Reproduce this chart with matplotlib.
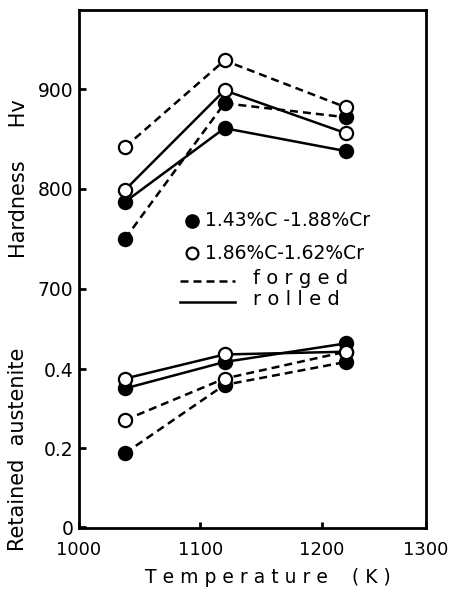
import matplotlib
matplotlib.use('Agg')
import matplotlib.pyplot as plt

plt.rcParams['font.family'] = 'DejaVu Sans'

temps = [1038, 1120, 1220]

# Hardness (Hv)
hv_a_forged = [750, 886, 872]     # 1.43%C-1.88%Cr, filled
hv_a_rolled = [787, 861, 838]
hv_b_forged = [842, 929, 882]     # 1.86%C-1.62%Cr, open
hv_b_rolled = [799, 899, 856]

# Retained austenite (fraction)
ra_a_forged = [0.187, 0.360, 0.418]
ra_a_rolled = [0.351, 0.418, 0.465]
ra_b_forged = [0.271, 0.376, 0.444]
ra_b_rolled = [0.376, 0.437, 0.444]

hv_ticks = [700, 800, 900]
ra_ticks = [0, 0.2, 0.4]
ra_ticklabels = ['0', '0.2', '0.4']
x_ticks = [1000, 1100, 1200]
x_max = 1286

fig = plt.figure(figsize=(4.51, 5.92), dpi=100)
ax = fig.add_axes([0.175, 0.108, 0.7694, 0.875])
ax2 = ax.twinx()

dash = (0, (3.2, 2.0))
lw = 1.8
ms = 9.5

def series(a, x, y, filled, ls):
    a.plot(x, y, color='black', lw=lw, linestyle=ls, marker='o', markersize=ms,
           markerfacecolor='black' if filled else 'white',
           markeredgecolor='black', markeredgewidth=1.6, zorder=3,
           clip_on=False)

series(ax, temps, hv_a_forged, True, dash)
series(ax, temps, hv_a_rolled, True, '-')
series(ax, temps, hv_b_forged, False, dash)
series(ax, temps, hv_b_rolled, False, '-')

series(ax2, temps, ra_a_forged, True, dash)
series(ax2, temps, ra_a_rolled, True, '-')
series(ax2, temps, ra_b_forged, False, dash)
series(ax2, temps, ra_b_rolled, False, '-')

ax.set_xlim(1000, x_max)
ax.set_ylim(459.5, 979.6)
ax2.set_ylim(-0.0025, 1.309)

ax.set_xticks(x_ticks + [x_max])
ax.set_xticklabels([str(t) for t in x_ticks] + ['1300'])
ax.set_yticks(hv_ticks)
ax.set_yticklabels([str(t) for t in hv_ticks])
ax2.set_yticks(ra_ticks)
ax2.set_yticklabels(ra_ticklabels)
ax2.yaxis.set_ticks_position('left')

ax.tick_params(axis='x', direction='in', length=4, width=2, pad=9, labelsize=13)
ax.tick_params(axis='y', direction='in', length=5, width=2, pad=4, labelsize=13.5)
ax2.tick_params(axis='y', direction='in', length=5, width=2, pad=4, labelsize=13.5)

for s in ax.spines.values():
    s.set_linewidth(2)
for s in ax2.spines.values():
    s.set_visible(False)

# legend keys
ax.plot([0.326], [0.593], 'o', color='black', markersize=ms, transform=ax.transAxes)
ax.text(0.363, 0.593, '1.43%C -1.88%Cr', transform=ax.transAxes, fontsize=13.5, va='center')
ax.plot([0.326], [0.531], 'o', markerfacecolor='white', markeredgecolor='black',
        markeredgewidth=1.6, markersize=ms - 1, transform=ax.transAxes)
ax.text(0.363, 0.531, '1.86%C-1.62%Cr', transform=ax.transAxes, fontsize=13.5, va='center')
ax.plot([0.291, 0.450], [0.477, 0.477], color='black', lw=lw, linestyle=dash,
        transform=ax.transAxes)
ax.text(0.501, 0.482, 'f o r g e d', transform=ax.transAxes, fontsize=14, va='center')
ax.plot([0.291, 0.450], [0.436, 0.436], color='black', lw=lw, transform=ax.transAxes)
ax.text(0.501, 0.441, 'r o l l e d', transform=ax.transAxes, fontsize=14, va='center')

fig.text(0.042, 0.6976, 'Hardness     Hv', rotation=90, ha='center', va='center', fontsize=15)
fig.text(0.040, 0.2416, 'Retained  austenite', rotation=90, ha='center', va='center', fontsize=15)
fig.text(0.594, 0.0253, 'T e m p e r a t u r e    ( K )', ha='center', va='center', fontsize=13.5)

fig.savefig('out.png', dpi=100)
